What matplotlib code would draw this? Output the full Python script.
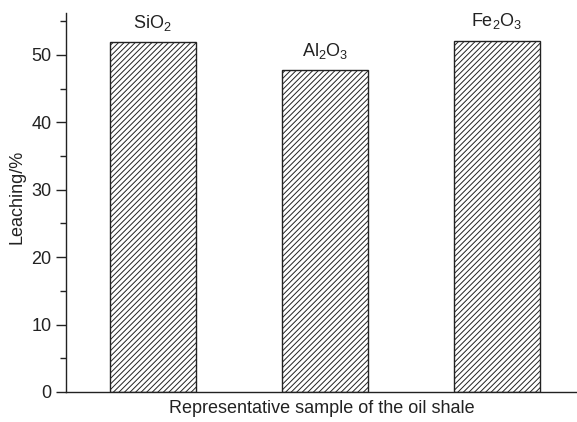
import matplotlib
matplotlib.use("Agg")
import matplotlib.pyplot as plt
from matplotlib.ticker import MultipleLocator

plt.rcParams['font.family'] = ['Liberation Sans', 'DejaVu Sans']
plt.rcParams['mathtext.fontset'] = 'custom'
plt.rcParams['mathtext.rm'] = 'Liberation Sans'
plt.rcParams['mathtext.it'] = 'Liberation Sans'
plt.rcParams['mathtext.default'] = 'regular'
plt.rcParams['hatch.linewidth'] = 0.7

categories = ['SiO$_2$', 'Al$_2$O$_3$', 'Fe$_2$O$_3$']
values = [51.9, 47.7, 52.1]
xlabel = 'Representative sample of the oil shale'
ylabel = 'Leaching/%'

col = '#222222'
fig = plt.figure(figsize=(5.77, 4.22), dpi=100)
ax = fig.add_axes([0.1144, 0.0711, 0.8856, 0.898])

pos = [1, 2, 3]
ax.bar(pos, values, width=0.5, facecolor='white', edgecolor=col, hatch='//////', linewidth=1.0)
for p, v, c in zip(pos, values, categories):
    ax.text(p, v + 1.4, c, ha='center', va='bottom', fontsize=13, color=col)

ax.set_xlim(0.496, 3.467)
ax.set_ylim(0, 56.2)
ax.yaxis.set_major_locator(MultipleLocator(10))
ax.yaxis.set_minor_locator(MultipleLocator(5))
ax.set_xticks([])
for s in ['top', 'right']:
    ax.spines[s].set_visible(False)
for s in ['left', 'bottom']:
    ax.spines[s].set_color(col)
    ax.spines[s].set_linewidth(1.0)
ax.tick_params(axis='y', which='major', length=7, width=1.0, color=col, labelsize=13, labelcolor=col, direction='out')
ax.tick_params(axis='y', which='minor', length=4, width=1.0, color=col)
ax.set_xlabel(xlabel, fontsize=13, color=col, labelpad=6)
ax.set_ylabel(ylabel, fontsize=13, color=col)
ax.yaxis.set_label_coords(-0.080, 0.514)

fig.savefig('out.png', dpi=100)
